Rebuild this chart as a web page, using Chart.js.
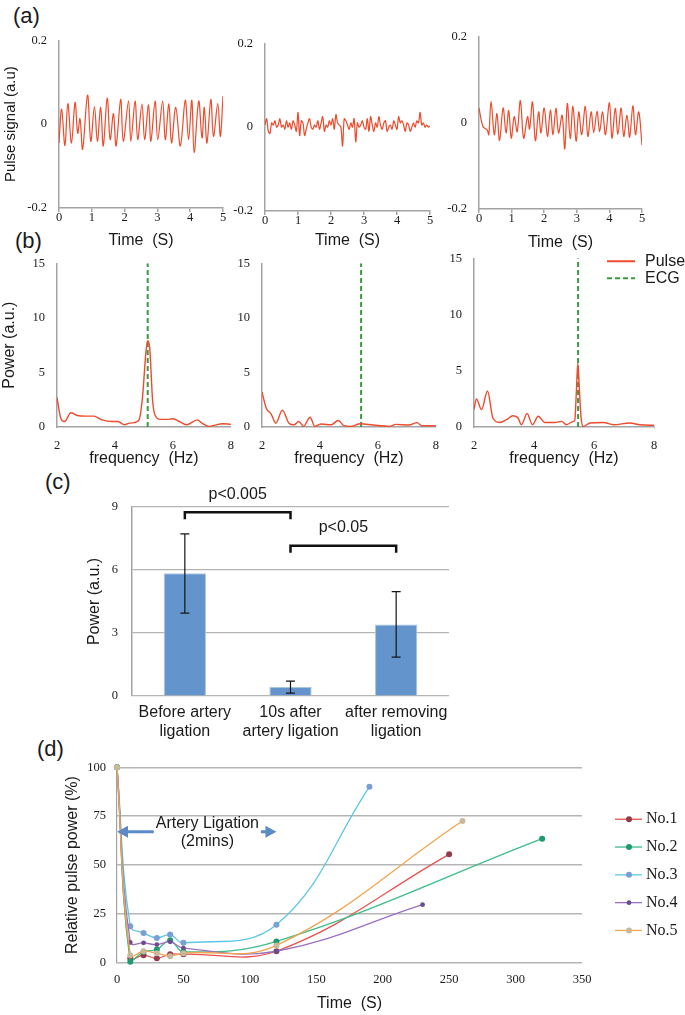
<!DOCTYPE html>
<html>
<head>
<meta charset="utf-8">
<script src="https://cdn.jsdelivr.net/npm/chart.js@4.4.1/dist/chart.umd.min.js"></script>
<style>
  body { margin: 0; background: #fff; }
  #page { position: relative; width: 685px; height: 1015px; overflow: hidden; font-family: "Liberation Sans", Arial, sans-serif; color: #1a1a1a; }
  canvas { position: absolute; }
  .tag { position: absolute; font-size: 22px; line-height: 22px; }
</style>
</head>
<body>
<div id="page">
  <div class="tag" style="left:13px;top:5px">(a)</div>
  <div class="tag" style="left:15px;top:230px">(b)</div>
  <div class="tag" style="left:45px;top:471px">(c)</div>
  <div class="tag" style="left:37px;top:738px">(d)</div>
  <canvas id="a1"></canvas>
  <canvas id="a2"></canvas>
  <canvas id="a3"></canvas>
  <canvas id="b1"></canvas>
  <canvas id="b2"></canvas>
  <canvas id="b3"></canvas>
  <canvas id="barChart"></canvas>
  <canvas id="recoveryChart"></canvas>
</div>
<script>
// ---- (a) pulse signal, 5 s windows ----
const a1Time = [0, 0.08, 0.18, 0.27, 0.38, 0.49, 0.57, 0.64, 0.72, 0.87, 0.97, 1.08, 1.17, 1.27, 1.35, 1.47, 1.56, 1.66, 1.74, 1.88,
  1.96, 2.12, 2.19, 2.32, 2.4, 2.53, 2.61, 2.73, 2.8, 2.93, 3.01, 3.16, 3.24, 3.35, 3.43, 3.56, 3.7, 3.85, 3.95, 4.05,
  4.12, 4.26, 4.36, 4.43, 4.51, 4.63, 4.71, 4.84, 4.92, 5.0]
const a1Signal = [-0.045, 0.036, -0.051, 0.049, -0.045, 0.052, -0.022, 0.013, -0.06, 0.069, -0.041, 0.042, -0.041, 0.04, -0.052,
  0.062, -0.037, 0.025, -0.052, 0.059, -0.041, 0.055, -0.041, 0.055, -0.037, 0.048, -0.037, 0.046, -0.041, 0.055,
  -0.037, 0.055, -0.037, 0.048, -0.045, 0.04, -0.052, 0.057, -0.037, 0.057, -0.068, 0.055, -0.033, 0.04, -0.045,
  0.059, -0.029, 0.049, -0.029, 0.067]

const a2Step = 0.05   // sampling interval of the second recording (s)
const a2Signal = [0.005, 0.02, -0.01, -0.015, 0.01, 0.005, 0.015, 0, 0.005, 0.02, 0, 0.005, -0.005, 0.015, 0, 0.01, -0.005, 0.015, 0.005, -0.01,
  0.035, -0.02, 0.015, 0.01, -0.02, -0.005, 0.01, 0.02, 0, -0.005, 0.005, 0, 0.015, -0.005, 0.01, 0.025, -0.01, 0.005, 0, 0.015,
  0.005, 0.02, -0.005, 0.03, 0.01, 0.005, 0, -0.045, 0.02, 0.015, 0.005, -0.005, 0.01, 0, 0.02, -0.035, 0.01, 0, 0.005, 0.015,
  0, -0.005, 0.02, -0.01, 0.025, 0.005, -0.01, 0.01, 0, 0.025, 0.005, -0.005, 0.01, 0.015, -0.01, 0, 0.005, -0.005, 0.015, 0.005,
  -0.005, 0.025, 0.01, 0.015, 0.005, -0.01, 0.01, 0.005, -0.01, 0, 0.01, 0, 0.015, 0.01, 0.035, 0.005, 0.01, 0, 0.005, 0, 0.003]

const a3Time = [0, 0.12, 0.25, 0.3, 0.37, 0.47, 0.55, 0.63, 0.74, 0.83, 0.91, 0.99, 1.08, 1.17, 1.27, 1.37, 1.49, 1.55, 1.64, 1.73,
  1.83, 1.9, 2.0, 2.1, 2.19, 2.27, 2.36, 2.44, 2.55, 2.63, 2.71, 2.8, 2.88, 2.98, 3.06, 3.15, 3.26, 3.34, 3.44, 3.52,
  3.62, 3.7, 3.79, 3.88, 4.0, 4.08, 4.18, 4.26, 4.36, 4.44, 4.54, 4.62, 4.72, 4.8, 4.9, 5.0]
const a3Signal = [0.034, -0.009, -0.017, -0.028, 0.049, -0.028, 0.021, -0.041, 0.034, -0.024, 0.028, -0.036, 0.014, -0.021, 0.051,
  -0.036, 0.014, -0.015, 0.048, -0.042, 0.025, -0.024, 0.034, -0.032, 0.029, -0.028, 0.033, -0.024, 0.017, -0.061,
  0.044, -0.037, 0.038, -0.043, 0.025, -0.028, 0.038, -0.032, 0.025, -0.023, 0.026, -0.021, 0.025, -0.028, 0.046,
  -0.036, 0.033, -0.027, 0.034, -0.032, 0.017, -0.034, 0.039, -0.028, 0.025, -0.052]

// ---- (b) power spectra ----
const b1Freq = [2.0, 2.12, 2.26, 2.48, 2.7, 3.0, 3.27, 3.55, 3.9, 4.1, 4.33, 4.5, 4.67, 4.83, 4.95, 5.07, 5.13, 5.2, 5.3, 5.38,
  5.56, 5.8, 6.0, 6.23, 6.46, 6.85, 7.0, 7.24, 7.5, 7.69, 8.0]
const b1Power = [2.7, 0.9, 0.5, 1.3, 1.05, 1.0, 1.0, 0.65, 0.5, 0.5, 0.2, 0.35, 0.4, 0.65, 2.7, 6.9, 7.9, 7.2, 2.4, 1.1,
  0.7, 0.7, 0.75, 0.5, 0.2, 0.65, 0.35, 0.06, 0.2, 0.3, 0.25]
const b2Freq = [2.0, 2.15, 2.31, 2.48, 2.7, 2.93, 3.1, 3.27, 3.43, 3.66, 3.82, 4.05, 4.39, 4.63, 4.83, 5.06, 5.39, 5.84, 6.4, 6.62,
  7.07, 7.35, 7.52, 8.0]
const b2Power = [3.2, 1.7, 1.2, 0.35, 1.55, 0.35, 0.2, 0.5, 0.06, 0.9, 0.06, 0.27, 0.2, 0.6, 0.12, 0.06, 0.3, 0.18, 0.06, 0.24,
  0.18, 0.4, 0.12, 0.12]
const b3Freq = [2.0, 2.08, 2.25, 2.45, 2.63, 2.86, 3.08, 3.3, 3.47, 3.58, 3.77, 3.95, 4.14, 4.36, 4.7, 4.92, 5.08, 5.31, 5.36, 5.41,
  5.46, 5.51, 5.57, 5.64, 5.87, 6.32, 6.65, 7.2, 7.53, 8.0]
const b3Power = [1.55, 2.5, 1.55, 3.2, 0.8, 0.4, 0.65, 1.0, 0.8, 0.2, 1.2, 0.2, 0.95, 0.4, 0.4, 0.5, 0.2, 0.5, 0.6, 3.0,
  5.7, 3.5, 0.8, 0.05, 0.35, 0.4, 0.2, 0.35, 0.2, 0.15]
const ecgFreq = [5.13, 5.42, 5.47]

// ---- (c) mean power per condition ----
const groups = [['Before artery', 'ligation'], ['10s after', 'artery ligation'], ['after removing', 'ligation']]
const meanPower = [5.85, 0.43, 3.4]
const errUpper = [7.72, 0.71, 4.97]
const errLower = [3.95, 0.14, 1.85]
const pairs = [[0, 1], [1, 2]]
const pairLevel = [8.75, 7.15]
const pairLabel = ['p<0.005', 'p<0.05']

// ---- (d) relative pulse power over time ----
const subjects = ['No.1', 'No.2', 'No.3', 'No.4', 'No.5']
const recTime = [
  [0, 10, 20, 30, 40, 50, 120, 250],
  [0, 10, 20, 30, 40, 50, 120, 320],
  [0, 10, 20, 30, 40, 50, 120, 190],
  [0, 10, 20, 30, 40, 50, 120, 230],
  [0, 10, 20, 30, 40, 50, 120, 260]
]
const relPower = [
  [100, 2.4, 4, 2.4, 4.5, 4.5, 6, 55.5],
  [100, 0.7, 5.7, 6.9, 11.6, 5.7, 11, 63.5],
  [100, 18.8, 15.3, 12.8, 14.5, 10.3, 19.5, 90],
  [100, 10.5, 10.3, 9.4, 10.8, 7.6, 6, 29.8],
  [100, 4, 6, 5, 3.5, 5, 9, 72.5]
]
const ligation = [0, 120]
const ligationLevel = 67
const ligationText = ['Artery Ligation', '(2mins)']

// ---- styles ----
const RED = '#ee4a2c'
const GREEN = '#3a9a3f'
const AXIS = '#a3a3a3'
const GRID = '#b5b5b5'
const INK = '#1a1a1a'
const BAR = '#6394cc'
const SANS = '"Liberation Sans", Arial, sans-serif'
const SERIF = '"Liberation Serif", "Times New Roman", serif'
const tickFont = { family: SERIF, size: 12.5, lineHeight: 1 }
const titleFont = { family: SANS, size: 16, lineHeight: 1 }
const lineColors = ['#e8534f', '#3dbd8a', '#5cc6e6', '#9a70c0', '#f2a44f']
const markerColors = ['#963a4d', '#1e9a6c', '#7b9ed6', '#6b4d8c', '#c9b99b']

// place a canvas so its plot area lands on `area` (page pixels)
function frame(id, area, box) {
    const cv = document.getElementById(id)
    cv.width = box.w
    cv.height = box.h
    cv.style.left = box.x + 'px'
    cv.style.top = box.y + 'px'
    return {
        canvas: cv,
        padding: { left: 0, top: area.t - box.y, right: box.x + box.w - area.r, bottom: 0 },
        yWidth: area.l - box.x,
        xHeight: box.y + box.h - area.b
    }
}

function baseOptions(f) {
    return {
        responsive: false,
        animation: false,
        events: [],
        layout: { padding: f.padding },
        plugins: { legend: { display: false }, tooltip: { enabled: false } }
    }
}

function pulseChart(id, area, box, times, signal, yTitle) {
    const f = frame(id, area, box)
    const options = baseOptions(f)
    options.scales = {
        x: {
            type: 'linear', min: 0, max: 5,
            afterFit: s => { s.height = f.xHeight },
            ticks: { stepSize: 1, padding: -1, font: tickFont, color: INK, maxRotation: 0 },
            grid: { drawOnChartArea: false, tickLength: 4, color: AXIS, lineWidth: 1.5 },
            border: { color: AXIS, width: 1.5 },
            title: { display: true, text: 'Time  (S)', font: titleFont, color: INK, padding: 0 }
        },
        y: {
            min: -0.2, max: 0.2,
            afterFit: s => { s.width = f.yWidth },
            ticks: { stepSize: 0.2, padding: 12, font: tickFont, color: INK },
            grid: { display: false, drawTicks: false },
            border: { color: AXIS, width: 1.5 },
            title: { display: !!yTitle, text: yTitle || '', font: { family: SANS, size: 15, lineHeight: 1 }, color: INK, padding: 0 }
        }
    }
    return new Chart(f.canvas, {
        type: 'line',
        data: {
            datasets: [{
                label: 'Pulse',
                data: times.map((t, i) => ({ x: t, y: signal[i] })),
                borderColor: RED, borderWidth: 1.2, pointRadius: 0, tension: 0.35
            }]
        },
        options
    })
}

const spectrumLegend = {
    id: 'spectrumLegend',
    afterDraw(chart) {
        const { ctx, chartArea: a } = chart
        ctx.save()
        ctx.font = `16px ${SANS}`
        ctx.fillStyle = INK
        ctx.textBaseline = 'middle'
        chart.data.datasets.forEach((ds, i) => {
            const y = a.top + 3 + i * 17
            ctx.strokeStyle = ds.borderColor
            ctx.lineWidth = 2
            ctx.setLineDash(ds.borderDash || [])
            ctx.beginPath()
            ctx.moveTo(a.right - 47, y)
            ctx.lineTo(a.right - 19, y)
            ctx.stroke()
            ctx.fillText(ds.label, a.right - 9, y)
        })
        ctx.restore()
    }
}

function spectrumChart(id, area, box, freq, power, ecg, yTitle, withLegend) {
    const f = frame(id, area, box)
    const options = baseOptions(f)
    options.scales = {
        x: {
            type: 'linear', min: 2, max: 8,
            afterFit: s => { s.height = f.xHeight },
            ticks: { stepSize: 2, padding: 12, font: tickFont, color: INK, maxRotation: 0 },
            grid: { display: false, drawTicks: false },
            border: { color: AXIS, width: 1.5 },
            title: { display: true, text: 'frequency  (Hz)', font: titleFont, color: INK, padding: 0 }
        },
        y: {
            min: 0, max: 15,
            afterFit: s => { s.width = f.yWidth },
            ticks: { stepSize: 5, padding: 12, font: tickFont, color: INK },
            grid: { display: false, drawTicks: false },
            border: { color: AXIS, width: 1.5 },
            title: { display: !!yTitle, text: yTitle || '', font: titleFont, color: INK, padding: 0 }
        }
    }
    return new Chart(f.canvas, {
        type: 'line',
        data: {
            datasets: [
                {
                    label: 'Pulse',
                    data: freq.map((v, i) => ({ x: v, y: power[i] })),
                    borderColor: RED, borderWidth: 1.4, pointRadius: 0, cubicInterpolationMode: 'monotone'
                },
                {
                    label: 'ECG',
                    data: [{ x: ecg, y: 0 }, { x: ecg, y: 15 }],
                    borderColor: GREEN, borderWidth: 2, borderDash: [5, 3], pointRadius: 0
                }
            ]
        },
        options,
        plugins: withLegend ? [spectrumLegend] : []
    })
}

pulseChart('a1', { l: 59, t: 37, r: 223, b: 208 }, { x: 3, y: 22, w: 232, h: 227 }, a1Time, a1Signal, 'Pulse signal (a.u)')
pulseChart('a2', { l: 265, t: 40, r: 430, b: 211 }, { x: 225, y: 25, w: 215, h: 224 }, a2Signal.map((v, i) => i * a2Step), a2Signal)
pulseChart('a3', { l: 479, t: 33, r: 642, b: 209 }, { x: 439, y: 18, w: 213, h: 233 }, a3Time, a3Signal)

spectrumChart('b1', { l: 57, t: 258, r: 236, b: 427 }, { x: 2, y: 245, w: 244, h: 222 }, b1Freq, b1Power, ecgFreq[0], 'Power (a.u.)')
spectrumChart('b2', { l: 262, t: 258, r: 441, b: 427 }, { x: 222, y: 245, w: 229, h: 222 }, b2Freq, b2Power, ecgFreq[1])
spectrumChart('b3', { l: 474, t: 258, r: 654, b: 427 }, { x: 434, y: 240, w: 251, h: 227 }, b3Freq, b3Power, ecgFreq[2], null, true)

// ---- (c) ----
const errorBars = {
    id: 'errorBars',
    afterDatasetsDraw(chart) {
        const { ctx, scales: { x, y } } = chart
        ctx.save()
        ctx.strokeStyle = '#151515'
        ctx.lineWidth = 1.2
        meanPower.forEach((v, i) => {
            const px = x.getPixelForValue(i)
            const hi = y.getPixelForValue(errUpper[i])
            const lo = y.getPixelForValue(errLower[i])
            ctx.beginPath()
            ctx.moveTo(px, hi); ctx.lineTo(px, lo)
            ctx.moveTo(px - 4.5, hi); ctx.lineTo(px + 4.5, hi)
            ctx.moveTo(px - 4.5, lo); ctx.lineTo(px + 4.5, lo)
            ctx.stroke()
        })
        // significance brackets
        ctx.lineWidth = 2.5
        ctx.strokeStyle = '#111'
        ctx.fillStyle = INK
        ctx.font = `16px ${SANS}`
        ctx.textAlign = 'center'
        ctx.textBaseline = 'middle'
        pairs.forEach(([i, j], k) => {
            const x0 = x.getPixelForValue(i)
            const x1 = x.getPixelForValue(j)
            const py = y.getPixelForValue(pairLevel[k])
            ctx.beginPath()
            ctx.moveTo(x0, py + 7); ctx.lineTo(x0, py); ctx.lineTo(x1, py); ctx.lineTo(x1, py + 7)
            ctx.stroke()
            ctx.fillText(pairLabel[k], (x0 + x1) / 2, py - 18)
        })
        ctx.restore()
    }
}

const fc = frame('barChart', { l: 132, t: 507, r: 449, b: 696 }, { x: 87, y: 480, w: 372, h: 265 })
const barOptions = baseOptions(fc)
barOptions.scales = {
    x: {
        afterFit: s => { s.height = fc.xHeight },
        ticks: { padding: 7, font: { family: SANS, size: 16, lineHeight: 1.2 }, color: INK, maxRotation: 0, autoSkip: false },
        grid: { display: false, drawTicks: false },
        border: { display: false }
    },
    y: {
        min: 0, max: 9,
        afterFit: s => { s.width = fc.yWidth },
        ticks: { stepSize: 3, padding: 14, font: tickFont, color: INK },
        grid: { color: GRID, lineWidth: 1.2, drawTicks: false },
        border: { color: AXIS, width: 1.5 },
        title: { display: true, text: 'Power (a.u.)', font: titleFont, color: INK, padding: 0 }
    }
}
new Chart(fc.canvas, {
    type: 'bar',
    data: {
        labels: groups,
        datasets: [{
            data: meanPower,
            backgroundColor: BAR, borderColor: '#a9c3e3', borderWidth: 1,
            categoryPercentage: 0.5, barPercentage: 0.8
        }]
    },
    options: barOptions,
    plugins: [errorBars]
})

// ---- (d) ----
const ligationArrow = {
    id: 'ligationArrow',
    afterDatasetsDraw(chart) {
        const { ctx, scales: { x, y } } = chart
        const x0 = x.getPixelForValue(ligation[0])
        const x1 = x.getPixelForValue(ligation[1])
        const py = y.getPixelForValue(ligationLevel)
        ctx.save()
        ctx.strokeStyle = '#5b8bc7'
        ctx.fillStyle = '#5b8bc7'
        ctx.lineWidth = 3
        ctx.beginPath()
        ctx.moveTo(x0 + 8, py); ctx.lineTo(x1 - 8, py)
        ctx.stroke()
        ;[[x0, 1], [x1, -1]].forEach(([px, dir]) => {
            ctx.beginPath()
            ctx.moveTo(px, py)
            ctx.lineTo(px + dir * 11, py - 6)
            ctx.lineTo(px + dir * 11, py + 6)
            ctx.closePath()
            ctx.fill()
        })
        // label sits on a white box over the middle of the arrow
        ctx.font = `16px ${SANS}`
        const cx = x.getPixelForValue(68)
        const w = ctx.measureText(ligationText[0]).width + 4
        ctx.fillStyle = '#fff'
        ctx.fillRect(cx - w / 2, py - 4, w, 8)
        ctx.fillStyle = INK
        ctx.textAlign = 'center'
        ctx.textBaseline = 'middle'
        ctx.fillText(ligationText[0], cx, py - 8)
        ctx.fillText(ligationText[1], cx, py + 10)
        ctx.restore()
    }
}

const recoveryLegend = {
    id: 'recoveryLegend',
    afterDraw(chart) {
        const { ctx, chartArea: a } = chart
        ctx.save()
        ctx.font = `16px ${SERIF}`
        ctx.fillStyle = INK
        ctx.textBaseline = 'middle'
        chart.data.datasets.forEach((ds, i) => {
            const y = a.top + 52 + i * 27.8
            ctx.strokeStyle = ds.borderColor
            ctx.lineWidth = 1.3
            ctx.beginPath()
            ctx.moveTo(a.right + 33, y)
            ctx.lineTo(a.right + 60, y)
            ctx.stroke()
            ctx.fillStyle = ds.pointBackgroundColor
            ctx.beginPath()
            ctx.arc(a.right + 47, y, ds.pointRadius, 0, Math.PI * 2)
            ctx.fill()
            ctx.fillStyle = INK
            ctx.fillText(ds.label, a.right + 64, y)
        })
        ctx.restore()
    }
}

const fd = frame('recoveryChart', { l: 117, t: 765, r: 582, b: 963 }, { x: 65, y: 750, w: 620, h: 262 })
const lineOptions = baseOptions(fd)
lineOptions.scales = {
    x: {
        type: 'linear', min: 0, max: 350,
        afterFit: s => { s.height = fd.xHeight },
        ticks: { stepSize: 50, padding: 10.5, font: tickFont, color: INK, maxRotation: 0 },
        grid: { display: false, drawTicks: false },
        border: { display: false },
        title: { display: true, text: 'Time  (S)', font: titleFont, color: INK, padding: 0 }
    },
    y: {
        min: 0, max: 100,
        afterFit: s => { s.width = fd.yWidth },
        ticks: { stepSize: 25, padding: 11, font: tickFont, color: INK },
        grid: { color: GRID, lineWidth: 1.5, drawTicks: false },
        border: { color: AXIS, width: 1.2 },
        title: { display: true, text: 'Relative pulse power (%)', font: titleFont, color: INK, padding: 0 }
    }
}
new Chart(fd.canvas, {
    type: 'line',
    data: {
        datasets: subjects.map((name, k) => ({
            label: name,
            data: recTime[k].map((t, i) => ({ x: t, y: relPower[k][i] })),
            borderColor: lineColors[k],
            borderWidth: 1.3,
            pointRadius: k === 3 ? 2.4 : 3,
            pointBorderWidth: 0,
            pointBackgroundColor: markerColors[k],
            tension: 0.4,
            clip: 6,
            order: subjects.length - 1 - k   // later subjects are drawn on top
        }))
    },
    options: lineOptions,
    plugins: [ligationArrow, recoveryLegend]
})
</script>
</body>
</html>
